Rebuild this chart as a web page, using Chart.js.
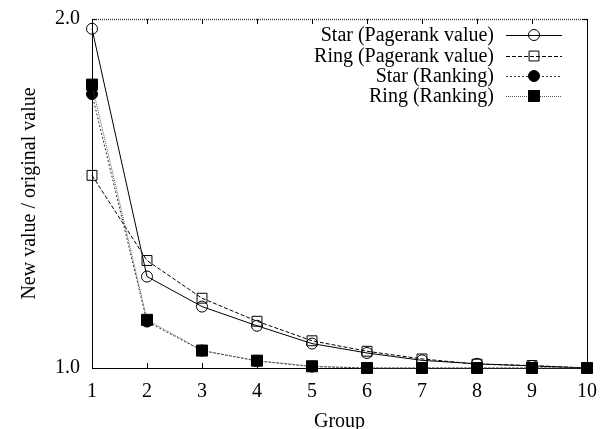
<!DOCTYPE html>
<html>
<head>
<meta charset="utf-8">
<script src="https://cdn.jsdelivr.net/npm/chart.js@4/dist/chart.umd.min.js"></script>
<style>
  html, body { margin: 0; padding: 0; background: #fff; }
  #wrap { width: 601px; height: 429px; }
</style>
</head>
<body>
<div id="wrap"><canvas id="c" width="601" height="429"></canvas></div>
<script>
// Group index on the x axis
const groups = [1, 2, 3, 4, 5, 6, 7, 8, 9, 10];

// Ratio of new value to original value, per group
const starPagerank = [1.972, 1.262, 1.176, 1.121, 1.070, 1.043, 1.022, 1.012, 1.006, 1.000];
const ringPagerank = [1.552, 1.308, 1.200, 1.134, 1.078, 1.048, 1.026, 1.011, 1.007, 1.000];
const starRanking  = [1.785, 1.133, 1.050, 1.020, 1.004, 1.000, 1.000, 1.000, 1.000, 1.000];
const ringRanking  = [1.812, 1.138, 1.050, 1.021, 1.005, 1.000, 1.000, 1.000, 1.000, 1.000];

// Labelled y ticks
const yTicks = [1.0, 2.0];

const seriesLabels = [
  'Star (Pagerank value)',
  'Ring (Pagerank value)',
  'Star (Ranking)',
  'Ring (Ranking)'
];

const FONT = '"Liberation Serif", "Times New Roman", serif';
const HOLLOW = 'rgba(0,0,0,0)';

const toPoints = vals => groups.map((g, i) => ({ x: g, y: vals[i] }));

const datasets = [
  {
    label: seriesLabels[0],
    data: toPoints(starPagerank),
    borderColor: '#000', borderWidth: 1, borderDash: [],
    pointStyle: 'circle', pointRadius: 5.5,
    pointBackgroundColor: HOLLOW, pointBorderColor: '#000', pointBorderWidth: 1,
    order: 3
  },
  {
    label: seriesLabels[1],
    data: toPoints(ringPagerank),
    borderColor: '#000', borderWidth: 1, borderDash: [4, 2],
    pointStyle: 'rect', pointRadius: 7,
    pointBackgroundColor: HOLLOW, pointBorderColor: '#000', pointBorderWidth: 1,
    order: 2
  },
  {
    label: seriesLabels[2],
    data: toPoints(starRanking),
    borderColor: '#333', borderWidth: 1, borderDash: [2, 2],
    pointStyle: 'circle', pointRadius: 5.5,
    pointBackgroundColor: '#000', pointBorderColor: '#000', pointBorderWidth: 1,
    order: 1
  },
  {
    label: seriesLabels[3],
    data: toPoints(ringRanking),
    borderColor: '#555', borderWidth: 1, borderDash: [1, 1],
    pointStyle: 'rect', pointRadius: 7.8,
    pointBackgroundColor: '#000', pointBorderColor: '#000', pointBorderWidth: 1,
    order: 0
  }
];
datasets.forEach(d => { d.tension = 0; d.fill = false; d.clip = false; });

// Frame: top and right edges plus inward tick marks on all four sides
const framePlugin = {
  id: 'frame',
  afterDatasetsDraw(chart) {
    const { ctx, chartArea: a, scales } = chart;
    ctx.save();
    ctx.strokeStyle = '#000';
    ctx.lineWidth = 1;
    ctx.setLineDash([]);
    // right edge
    ctx.beginPath();
    ctx.moveTo(a.right + 0.5, a.top);
    ctx.lineTo(a.right + 0.5, a.bottom);
    ctx.stroke();
    // top edge, dotted
    ctx.strokeStyle = '#444';
    ctx.lineWidth = 1.5;
    ctx.setLineDash([1, 1]);
    ctx.beginPath();
    ctx.moveTo(a.left, a.top + 0.5);
    ctx.lineTo(a.right, a.top + 0.5);
    ctx.stroke();
    ctx.setLineDash([]);
    ctx.strokeStyle = '#000';
    ctx.lineWidth = 1;
    // x ticks, bottom and top
    const tl = 5;
    groups.forEach(g => {
      const px = Math.round(scales.x.getPixelForValue(g)) + 0.5;
      ctx.beginPath();
      ctx.moveTo(px, a.bottom); ctx.lineTo(px, a.bottom - tl);
      ctx.moveTo(px, a.top); ctx.lineTo(px, a.top + tl);
      ctx.stroke();
    });
    // y ticks, left and right
    yTicks.forEach(v => {
      const py = Math.round(scales.y.getPixelForValue(v)) + 0.5;
      ctx.beginPath();
      ctx.moveTo(a.left, py); ctx.lineTo(a.left + tl, py);
      ctx.moveTo(a.right, py); ctx.lineTo(a.right - tl, py);
      ctx.stroke();
    });
    ctx.restore();
  }
};

// Key in the upper right: right-aligned text, then a line sample with its marker
const keyPlugin = {
  id: 'key',
  afterDraw(chart) {
    const { ctx } = chart;
    const textRight = 494;
    const lineL = 506, lineR = 562, markX = 534;
    const rowY = [35, 56, 76, 96];
    ctx.save();
    ctx.font = '20px ' + FONT;
    ctx.textAlign = 'right';
    ctx.textBaseline = 'middle';
    ctx.fillStyle = '#000';
    chart.data.datasets.forEach((ds, i) => {
      const y = rowY[i];
      ctx.fillText(ds.label, textRight, y + 1);
      ctx.save();
      ctx.strokeStyle = ds.borderColor;
      ctx.lineWidth = ds.borderWidth;
      ctx.setLineDash(ds.borderDash);
      ctx.beginPath();
      ctx.moveTo(lineL, y + 0.5);
      ctx.lineTo(lineR, y + 0.5);
      ctx.stroke();
      ctx.setLineDash([]);
      ctx.fillStyle = ds.pointBackgroundColor;
      ctx.strokeStyle = ds.pointBorderColor;
      ctx.lineWidth = ds.pointBorderWidth;
      Chart.helpers.drawPoint(ctx, {
        pointStyle: ds.pointStyle,
        radius: ds.pointRadius,
        rotation: 0,
        borderWidth: ds.pointBorderWidth
      }, markX, y);
      ctx.restore();
    });
    ctx.restore();
  }
};

new Chart(document.getElementById('c'), {
  type: 'line',
  data: { datasets },
  options: {
    responsive: false,
    devicePixelRatio: 1,
    animation: false,
    events: [],
    layout: { padding: { top: 19, right: 14, left: 0, bottom: 0 } },
    plugins: {
      legend: { display: false },
      tooltip: { enabled: false },
      title: { display: false }
    },
    scales: {
      x: {
        type: 'linear',
        min: 1, max: 10,
        afterBuildTicks: s => { s.ticks = groups.map(v => ({ value: v })); },
        afterFit: s => { s.height = 61; s.paddingLeft = 0; s.paddingRight = 0; },
        grid: { display: false, drawTicks: false },
        border: { display: true, color: '#000', width: 1 },
        ticks: {
          color: '#000', padding: 12, maxRotation: 0, autoSkip: false,
          font: { family: FONT, size: 20 },
          callback: v => String(v)
        },
        title: {
          display: true, text: 'Group', color: '#000',
          font: { family: FONT, size: 20, lineHeight: 0.75 },
          padding: { top: 0, bottom: 0 }
        }
      },
      y: {
        type: 'linear',
        min: 1, max: 2,
        afterBuildTicks: s => { s.ticks = yTicks.map(v => ({ value: v })); },
        afterFit: s => { s.width = 92; s.paddingTop = 0; s.paddingBottom = 0; },
        grid: { display: false, drawTicks: false },
        border: { display: true, color: '#000', width: 1 },
        ticks: {
          color: '#000', padding: 12,
          font: { family: FONT, size: 20 },
          callback: v => Number(v).toFixed(1)
        },
        title: {
          display: true, text: 'New value / original value', color: '#000',
          font: { family: FONT, size: 20, lineHeight: 1.2 },
          padding: { top: 18, bottom: 0 }
        }
      }
    }
  },
  plugins: [framePlugin, keyPlugin]
});
</script>
</body>
</html>
